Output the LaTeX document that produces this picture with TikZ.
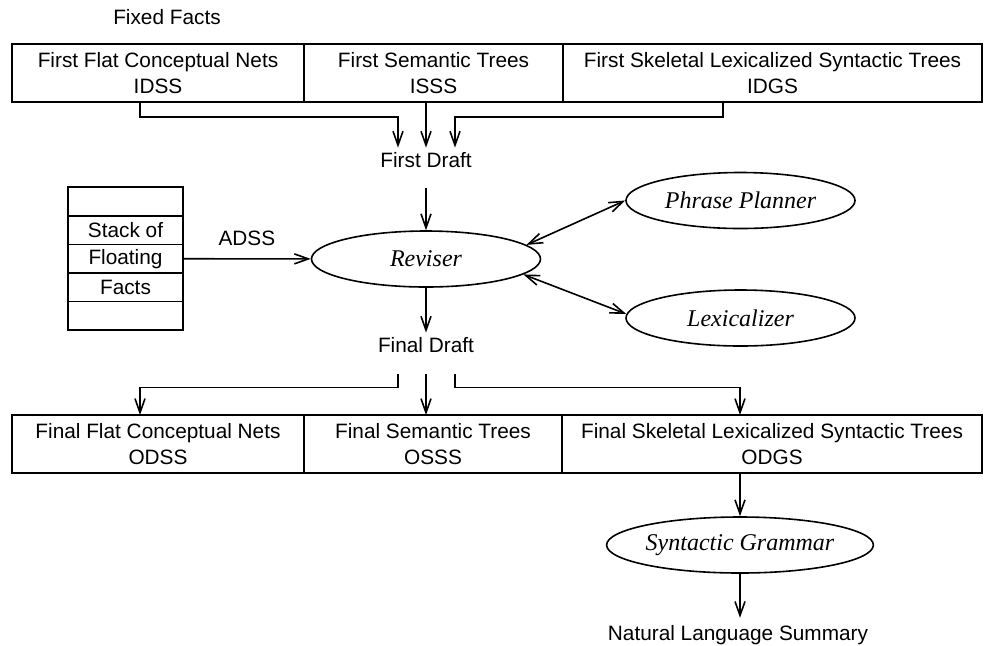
\documentclass[tikz,border=0pt]{standalone}
\usepackage{fontspec}
\setmainfont{Liberation Sans}
\newfontfamily\procfont{Liberation Serif}
\usetikzlibrary{positioning, arrows.meta, shapes.geometric}

\begin{document}
\begin{tikzpicture}[x=0.5pt, y=-0.5pt, line width=0.8pt,
    font=\fontsize{10.4}{13}\selectfont,
    arr/.style={-{Straight Barb[length=7pt,width=5pt]}},
    darr/.style={{Straight Barb[length=7pt,width=5pt]}-{Straight Barb[length=7pt,width=5pt]}},
    facts/.style={draw, rectangle, align=center, inner sep=0pt, outer sep=0pt, minimum height=29pt},
    proc/.style={draw, ellipse, inner sep=0pt, minimum width=114.5pt, minimum height=28pt,
        font=\procfont\itshape\fontsize{12}{14}\selectfont},
    slot/.style={draw, rectangle, inner sep=0pt, outer sep=0pt, minimum width=57.5pt, minimum height=14.3pt},
    draft/.style={inner sep=2pt}]
    \useasboundingbox (0,0) rectangle (997,645);

    % Nodes
    \node (Fixed) at (167,17) {Fixed Facts};
    \node[facts, minimum width=146pt] (IDSS) at (158,73) {First Flat Conceptual Nets\\IDSS};
    \node[facts, minimum width=129.5pt, right=0pt of IDSS] (ISSS) {First Semantic Trees\\ISSS};
    \node[facts, minimum width=209.5pt, right=0pt of ISSS] (IDGS) {First Skeletal Lexicalized Syntactic Trees\\IDGS};

    \node[draft] (FirstDraft) at (426,160) {First Draft};
    \node[proc] (Reviser) at (426,259) {Reviser};
    \node[proc] (Planner) at (740.5,200.5) {Phrase Planner};
    \node[proc] (Lex) at (740.5,318) {Lexicalizer};

    \foreach \txt [count=\i] in {{}, Stack of, Floating, Facts, {}}
        \node[slot] (S\i) at (125.5,{172.9+28.6*\i}) {\txt};

    \node[draft] (FinalDraft) at (426,345) {Final Draft};
    \node[facts, minimum width=146pt] (ODSS) at (158,444) {Final Flat Conceptual Nets\\ODSS};
    \node[facts, minimum width=129pt, right=0pt of ODSS] (OSSS) {Final Semantic Trees\\OSSS};
    \node[facts, minimum width=210pt, right=0pt of OSSS] (ODGS) {Final Skeletal Lexicalized Syntactic Trees\\ODGS};
    \node[proc] (Grammar) at (740,545) {Syntactic Grammar};
    \node (Summary) at (738,635) {Natural Language Summary};

    % Paths
    \draw[arr] (IDSS.south -| 140,0) -- ++(0,15) -| ([xshift=-14pt]FirstDraft.north);
    \draw[arr] (ISSS.south -| FirstDraft.north) -- (FirstDraft.north);
    \draw[arr] (IDGS.south -| 723,0) -- ++(0,15) -| ([xshift=14.5pt]FirstDraft.north);
    \draw[arr, shorten <=8pt] (FirstDraft.south) -- (Reviser.north);

    \draw[arr] (S3) -- node[above=3pt] (ADSS) {ADSS} (Reviser);
    \draw[darr] (Reviser.8) -- (Planner.west);
    \draw[darr] (Reviser.-9) -- (Lex.178);

    \draw[arr] (Reviser.south) -- (FinalDraft.north);
    \draw[arr] ([xshift=-14pt,yshift=-8.5pt]FinalDraft.south) -- ++(0,13) -| (ODSS.north -| 140,0);
    \draw[arr] ([yshift=-8.5pt]FinalDraft.south) -- (FinalDraft.south |- OSSS.north);
    \draw[arr] ([xshift=14.5pt,yshift=-8.5pt]FinalDraft.south) -- ++(0,13) -| (ODGS.north -| Grammar.north);

    \draw[arr] (ODGS.south -| Grammar.north) -- (Grammar.north);
    \draw[arr] (Grammar.south) -- (Grammar.south |- Summary.north);
\end{tikzpicture}
\end{document}
